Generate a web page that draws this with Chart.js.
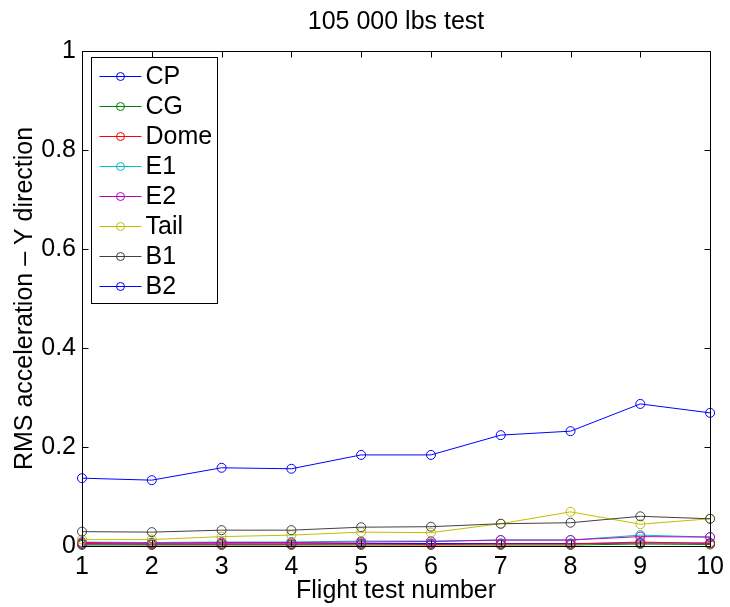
<!DOCTYPE html>
<html><head><meta charset="utf-8">
<script src="https://cdn.jsdelivr.net/npm/chart.js@4"></script>
<style>html,body{margin:0;padding:0;background:#fff}#wrap{width:730px;height:607px}</style>
</head><body><div id="wrap"><canvas id="c" width="730" height="607"></canvas></div>
<script>
const flightTests = [1, 2, 3, 4, 5, 6, 7, 8, 9, 10];
const yTickValues = [0, 0.2, 0.4, 0.6, 0.8, 1];
const yTickLabels = ['0', '0.2', '0.4', '0.6', '0.8', '1'];
const seriesNames = ['CP', 'CG', 'Dome', 'E1', 'E2', 'Tail', 'B1', 'B2'];
const cpValues   = [0.004, 0.004, 0.004, 0.004, 0.005, 0.005, 0.005, 0.005, 0.006, 0.006];
const cgValues   = [0.002, 0.002, 0.002, 0.002, 0.002, 0.002, 0.002, 0.002, 0.004, 0.003];
const domeValues = [0.005, 0.004, 0.004, 0.004, 0.004, 0.003, 0.004, 0.004, 0.008, 0.005];
const e1Values   = [0.008, 0.007, 0.008, 0.008, 0.010, 0.010, 0.012, 0.012, 0.022, 0.018];
const e2Values   = [0.007, 0.006, 0.007, 0.007, 0.008, 0.009, 0.012, 0.012, 0.019, 0.018];
const tailValues = [0.013, 0.013, 0.019, 0.022, 0.028, 0.027, 0.045, 0.069, 0.044, 0.055];
const b1Values   = [0.029, 0.028, 0.032, 0.032, 0.038, 0.039, 0.045, 0.047, 0.060, 0.055];
const b2Values   = [0.137, 0.133, 0.158, 0.156, 0.184, 0.184, 0.224, 0.232, 0.287, 0.269];
const seriesValues = [cpValues, cgValues, domeValues, e1Values, e2Values, tailValues, b1Values, b2Values];

const seriesColors = ['#0000ff', '#008000', '#ff0000', '#00bfbf', '#bf00bf', '#bfbf00', '#404040', '#0000ff'];
const FONT = '"Liberation Sans", Arial, Helvetica, sans-serif';
const FS = 25;

const datasets = seriesNames.map((name, i) => ({
  label: name,
  data: flightTests.map((f, j) => ({ x: f, y: seriesValues[i][j] })),
  borderColor: seriesColors[i],
  backgroundColor: seriesColors[i],
  pointBorderColor: seriesColors[i],
  pointBackgroundColor: 'rgba(0,0,0,0)',
  pointRadius: 4.5,
  pointHoverRadius: 4.5,
  pointBorderWidth: 1,
  borderWidth: 1,
  tension: 0,
  fill: false,
  clip: false,
  order: seriesNames.length - i
}));

const matlabAxes = {
  id: 'matlabAxes',
  afterDraw(chart) {
    const ctx = chart.ctx;
    const ca = chart.chartArea;
    const xs = chart.scales.x, ys = chart.scales.y;
    const L = Math.round(ca.left) + 0.5, R = Math.round(ca.right) + 0.5;
    const T = Math.round(ca.top) + 0.5, B = Math.round(ca.bottom) + 0.5;
    const tl = 6;
    ctx.save();
    ctx.strokeStyle = '#000';
    ctx.lineWidth = 1;
    ctx.beginPath();
    flightTests.forEach(f => {
      const x = Math.round(xs.getPixelForValue(f)) + 0.5;
      ctx.moveTo(x, B); ctx.lineTo(x, B - tl);
      ctx.moveTo(x, T); ctx.lineTo(x, T + tl);
    });
    yTickValues.forEach(v => {
      const y = Math.round(ys.getPixelForValue(v)) + 0.5;
      ctx.moveTo(L, y); ctx.lineTo(L + tl, y);
      ctx.moveTo(R, y); ctx.lineTo(R - tl, y);
    });
    ctx.stroke();
    ctx.strokeRect(L, T, R - L, B - T);

    // legend box
    const lx = L + 9, ly = T + 6, lw = 126, lh = 246;
    ctx.fillStyle = '#fff';
    ctx.fillRect(lx, ly, lw, lh);
    ctx.strokeStyle = '#000';
    ctx.strokeRect(lx, ly, lw, lh);
    ctx.font = FS + 'px ' + FONT;
    ctx.textBaseline = 'middle';
    ctx.textAlign = 'left';
    chart.data.datasets.forEach((ds, i) => {
      const cy = Math.round(ly + 18 + i * 30) + 0.5;
      ctx.strokeStyle = ds.borderColor;
      ctx.beginPath();
      ctx.moveTo(lx + 8, cy); ctx.lineTo(lx + 50, cy);
      ctx.stroke();
      ctx.beginPath();
      ctx.arc(lx + 29, cy, 4, 0, Math.PI * 2);
      ctx.stroke();
      ctx.fillStyle = '#000';
      ctx.fillText(ds.label, lx + 54, cy + 1);
    });
    ctx.restore();
  }
};

new Chart(document.getElementById('c'), {
  type: 'line',
  data: { datasets },
  plugins: [matlabAxes],
  options: {
    responsive: false,
    devicePixelRatio: 1,
    animation: false,
    events: [],
    layout: { padding: { top: 0, right: 18, bottom: 0, left: 0 } },
    plugins: {
      legend: { display: false },
      tooltip: { enabled: false },
      title: {
        display: true,
        text: '105 000 lbs test',
        color: '#000',
        fullSize: false,
        font: { family: FONT, size: FS, weight: 'normal', lineHeight: 1.2 },
        padding: { top: 7, bottom: 14 }
      }
    },
    scales: {
      x: {
        type: 'linear',
        min: 1, max: 10,
        afterFit(s) { s.height = 61; },
        afterBuildTicks(s) { s.ticks = flightTests.map(v => ({ value: v })); },
        grid: { display: false, drawTicks: false },
        border: { display: false },
        ticks: { color: '#000', font: { family: FONT, size: FS }, padding: 6, maxRotation: 0,
                 callback: v => String(v) },
        title: { display: true, text: 'Flight test number', color: '#000',
                 font: { family: FONT, size: FS }, padding: { top: 0, bottom: 1 } }
      },
      y: {
        min: 0, max: 1,
        afterFit(s) { s.width = 82; },
        afterBuildTicks(s) { s.ticks = yTickValues.map(v => ({ value: v })); },
        grid: { display: false, drawTicks: false },
        border: { display: false },
        ticks: { color: '#000', font: { family: FONT, size: FS }, padding: 6,
                 callback: (v) => { const k = yTickValues.indexOf(v); return k >= 0 ? yTickLabels[k] : ''; } },
        title: { display: true, text: 'RMS acceleration – Y direction', color: '#000',
                 font: { family: FONT, size: FS }, padding: { top: 10, bottom: 0 } }
      }
    }
  }
});
</script></body></html>
